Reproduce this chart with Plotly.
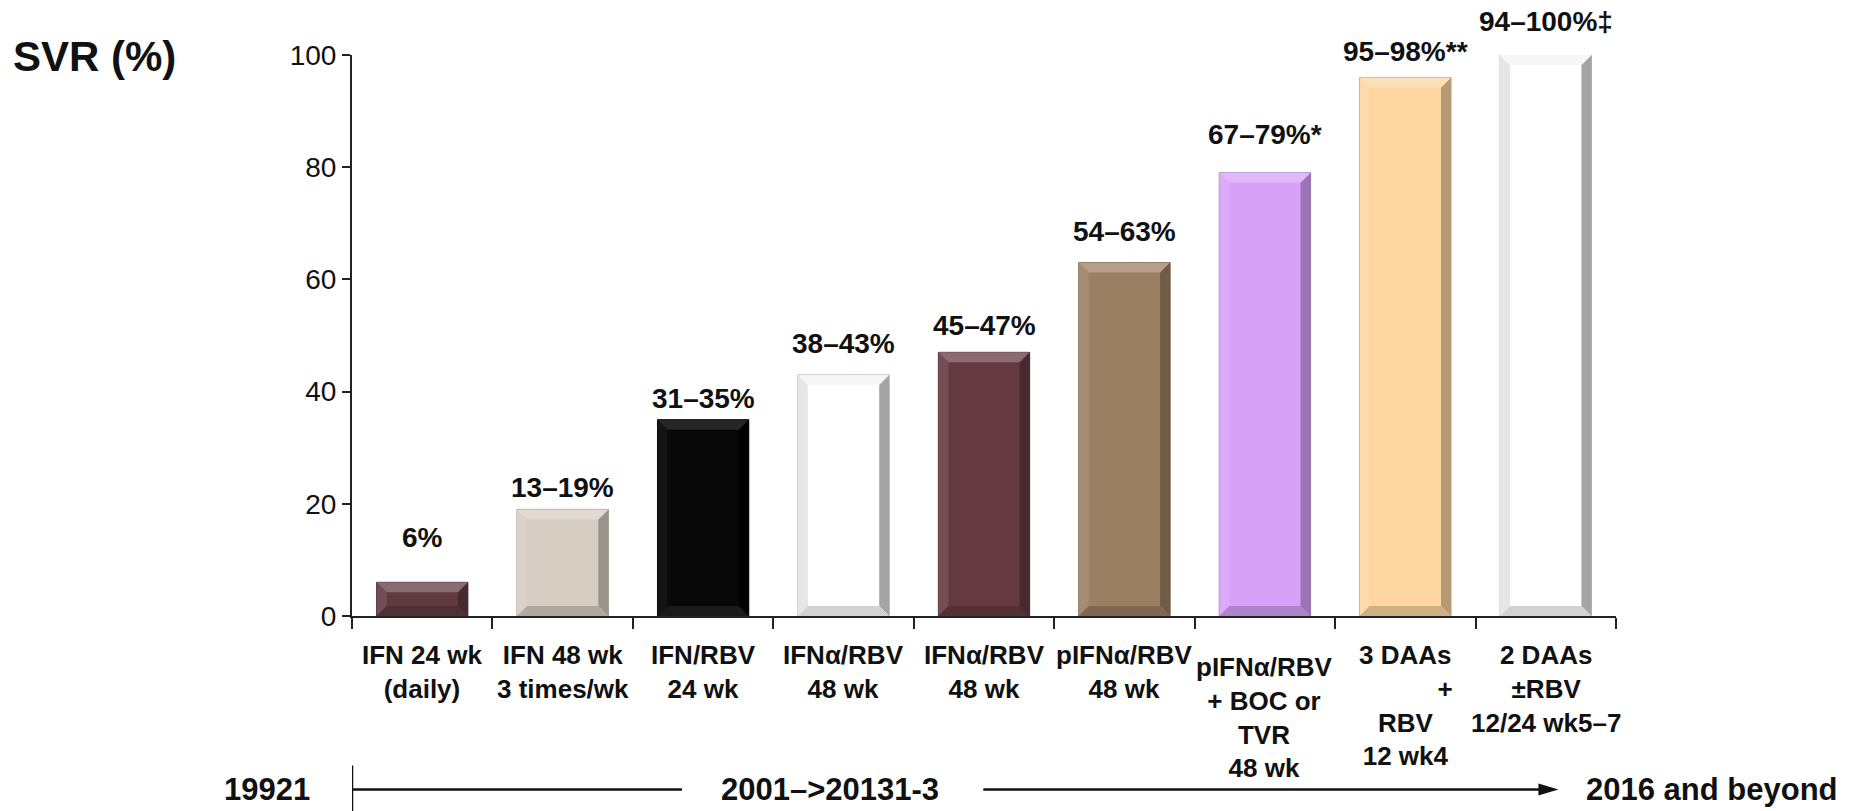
import plotly.graph_objects as go

# Treatment regimens (x categories), in chronological order
regimens = [
    "IFN 24 wk<br>(daily)",
    "IFN 48 wk<br>3 times/wk",
    "IFN/RBV<br>24 wk",
    "IFNα/RBV<br>48 wk",
    "IFNα/RBV<br>48 wk",
    "pIFNα/RBV<br>48 wk",
    "pIFNα/RBV<br>+ BOC or<br>TVR<br>48 wk",
    "3 DAAs<br>\u00a0\u00a0\u00a0\u00a0\u00a0\u00a0\u00a0\u00a0\u00a0\u00a0\u00a0+<br>RBV<br>12 wk4",
    "2 DAAs<br>±RBV<br>12/24 wk5–7",
]

# SVR rate (%) shown by each bar
svr = [6, 19, 35, 43, 47, 63, 79, 96, 100]

# Reported SVR ranges printed above the bars
svr_labels = ["6%", "13–19%", "31–35%", "38–43%", "45–47%", "54–63%",
              "67–79%*", "95–98%**", "94–100%‡"]

# Bar fill colours
bar_colors = ["#613a41", "#d6cec3", "#080808", "#ffffff", "#643a40",
              "#9b7f62", "#d7a1f8", "#fdd6a1", "#ffffff"]

# Y axis ticks
y_ticks = [0, 20, 40, 60, 80, 100]

# Timeline captions along the bottom
era_labels = ["19921", "2001–>20131-3", "2016 and beyond"]

FONT = "Liberation Sans, Arial, sans-serif"
BAR_W = 0.65
N = len(regimens)
xs = list(range(N))

# plot-area geometry in pixels (used to size the bevels)
PLOT_W, PLOT_H = 1264, 561
px_x = PLOT_W / N          # pixels per category
px_y = PLOT_H / 100        # pixels per % point


def mix(hex_color, target, f):
    h = hex_color.lstrip("#")
    r, g, b = (int(h[i:i + 2], 16) for i in (0, 2, 4))
    t = 255 if target == "w" else 0
    r, g, b = (round(c + (t - c) * f) for c in (r, g, b))
    return f"#{r:02x}{g:02x}{b:02x}"


fig = go.Figure()

fig.add_trace(go.Bar(
    x=xs, y=svr, width=BAR_W,
    marker=dict(color=bar_colors,
                line=dict(color=[mix(c, "b", 0.3) for c in bar_colors], width=1)),
    hoverinfo="skip", showlegend=False,
))

# bevelled edges on every bar, built from the bar values
shapes = []
bx = 10 / px_x
by = 10 / px_y
for i, (v, c) in enumerate(zip(svr, bar_colors)):
    x0, x1 = i - BAR_W / 2, i + BAR_W / 2
    y0, y1 = 0, v
    is_white = c.lower() == "#ffffff"
    if is_white:
        top, left, right, bottom = "#f6f6f6", "#e6e6e6", "#a4a4a4", "#d2d2d2"
    elif c == "#080808":
        top, left, right, bottom = "#262626", "#141414", "#000000", "#1a1a1a"
    else:
        top = mix(c, "w", 0.25)
        left = mix(c, "w", 0.10)
        right = mix(c, "b", 0.28)
        bottom = mix(c, "b", 0.18)
    faces = [
        (left, [(x0, y0), (x0, y1), (x0 + bx, y1 - by), (x0 + bx, y0 + by)]),
        (right, [(x1, y0), (x1, y1), (x1 - bx, y1 - by), (x1 - bx, y0 + by)]),
        (top, [(x0, y1), (x1, y1), (x1 - bx, y1 - by), (x0 + bx, y1 - by)]),
        (bottom, [(x0, y0), (x1, y0), (x1 - bx, y0 + by), (x0 + bx, y0 + by)]),
    ]
    for col, pts in faces:
        path = "M " + " L ".join(f"{px},{py}" for px, py in pts) + " Z"
        shapes.append(dict(type="path", path=path, xref="x", yref="y",
                           fillcolor=col, line=dict(width=0), layer="above"))

annotations = []

# value ranges above bars (extra lift per label in px)
label_lift = [45, 22, 21, 31, 27, 31, 38, 26, 34]
for i, (v, t) in enumerate(zip(svr, svr_labels)):
    annotations.append(dict(
        x=i, y=v, xref="x", yref="y", text=t, showarrow=False,
        yanchor="middle", yshift=label_lift[i],
        font=dict(family=FONT, size=28, color="#111", weight="bold"),
    ))

# category labels below the axis
for i, t in enumerate(regimens):
    annotations.append(dict(
        x=i, y=0, xref="x", yref="paper", text=t, showarrow=False,
        yanchor="top", yshift=-22 - (12 if i == 6 else 0),
        font=dict(family=FONT, size=26, color="#111", weight="bold"),
    ))

# y axis title
annotations.append(dict(
    x=-0.27, y=0.998, xref="paper", yref="paper", text="SVR (%)",
    showarrow=False, xanchor="left", yanchor="middle",
    font=dict(family=FONT, size=42, color="#111", weight="bold"),
))

# timeline along the bottom
TL_Y = -0.3093
era_font = dict(family=FONT, size=31, color="#111", weight="bold")
annotations += [
    dict(x=-0.0672, y=TL_Y, xref="paper", yref="paper", text=era_labels[0],
         showarrow=False, xanchor="center", yanchor="middle", font=era_font),
    dict(x=2.905, y=TL_Y, xref="x", yref="paper", text=era_labels[1],
         showarrow=False, xanchor="center", yanchor="middle", font=era_font),
    dict(x=8.27, y=TL_Y, xref="x", yref="paper", text=era_labels[2],
         showarrow=False, xanchor="left", yanchor="middle", font=era_font),
]

tip = 8.09
head_len = 20 / px_x
head_h = 6 / PLOT_H
shapes += [
    dict(type="line", xref="x", yref="paper", x0=-0.5, x1=-0.5,
         y0=-0.2665, y1=-0.35, line=dict(color="#111", width=2.5)),
    dict(type="line", xref="x", yref="paper", x0=-0.5, x1=1.85,
         y0=TL_Y, y1=TL_Y, line=dict(color="#111", width=2.5)),
    dict(type="line", xref="x", yref="paper", x0=3.995, x1=tip - head_len / 2,
         y0=TL_Y, y1=TL_Y, line=dict(color="#111", width=2.5)),
    dict(type="path", xref="x", yref="paper",
         path=f"M {tip},{TL_Y} L {tip - head_len},{TL_Y + head_h} "
              f"L {tip - head_len},{TL_Y - head_h} Z",
         fillcolor="#111", line=dict(width=0)),
]

fig.update_layout(
    width=1852, height=811,
    margin=dict(l=352, r=236, t=55, b=195),
    plot_bgcolor="white", paper_bgcolor="white",
    shapes=shapes, annotations=annotations,
    xaxis=dict(
        range=[-0.5, N - 0.5], showgrid=False, zeroline=False,
        showline=True, linecolor="#222", linewidth=2,
        tickmode="array", tickvals=[i - 0.5 for i in range(N + 1)],
        ticks="outside", ticklen=11, tickwidth=2, tickcolor="#222",
        showticklabels=False, fixedrange=True,
    ),
    yaxis=dict(
        range=[0, 100], showgrid=False, zeroline=False,
        showline=True, linecolor="#222", linewidth=2,
        tickmode="array", tickvals=y_ticks,
        ticks="outside", ticklen=8, tickwidth=2, tickcolor="#222",
        tickfont=dict(family=FONT, size=28, color="#111"),
        fixedrange=True,
    ),
)

fig.write_html("out.html")
